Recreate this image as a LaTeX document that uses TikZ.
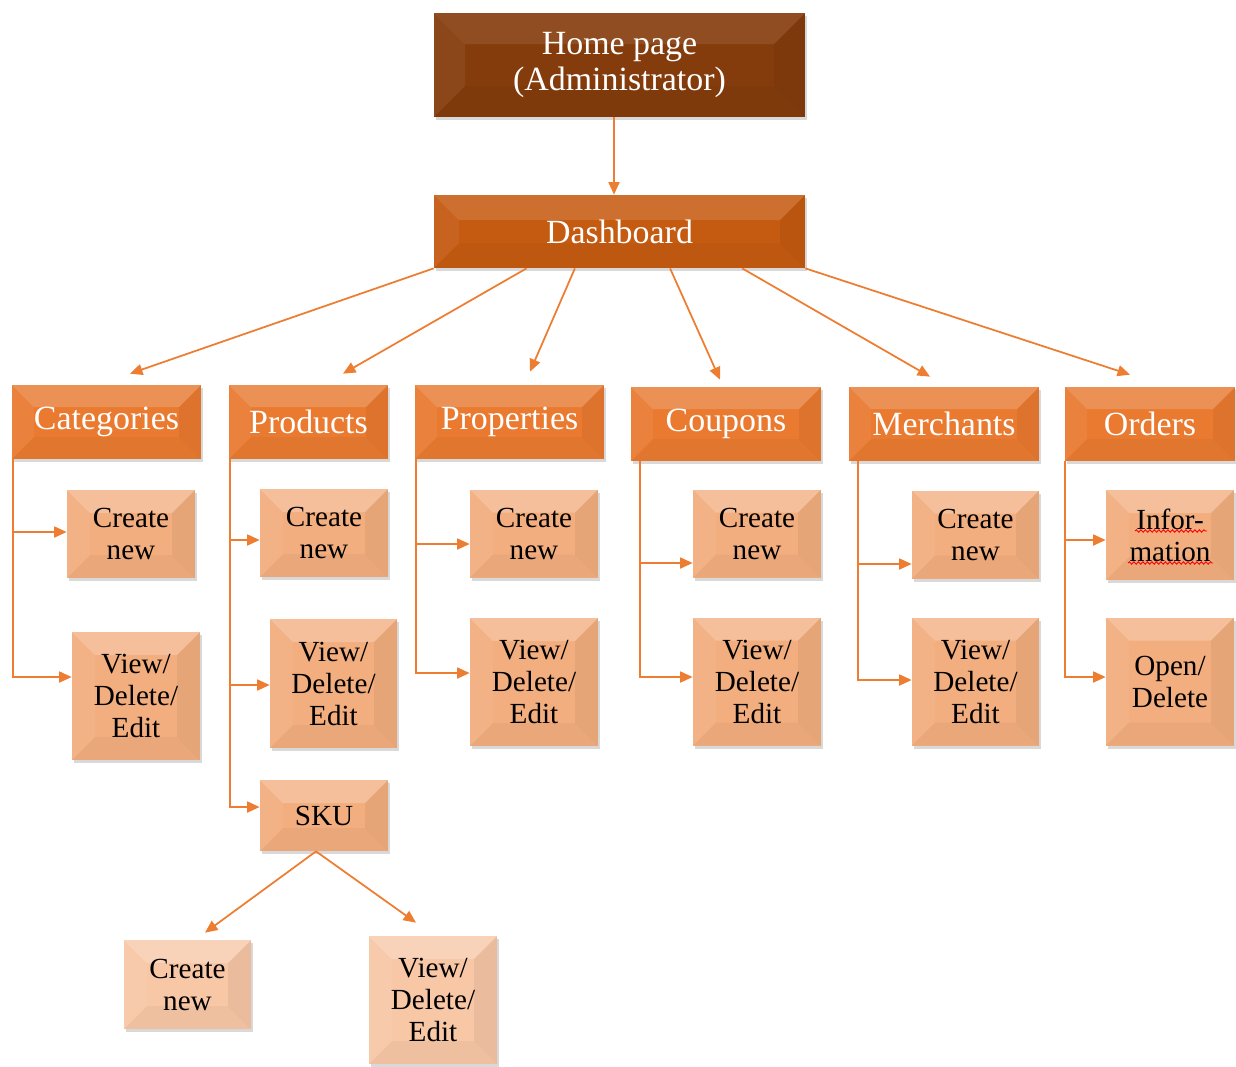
\documentclass[tikz,border=0pt]{standalone}
\usepackage{fontspec}
\setmainfont{Liberation Serif}
\usetikzlibrary{arrows.meta,shadows,calc,decorations.pathmorphing}

\definecolor{homeC}{HTML}{843C0C}
\definecolor{dashC}{HTML}{C55A11}
\definecolor{secC}{HTML}{E97A30}
\definecolor{itemC}{HTML}{F2AE7E}
\definecolor{subC}{HTML}{F7C7A6}
\definecolor{lineC}{HTML}{ED7D31}

% bevelled faces drawn inside a rectangular node
% #1 = bevel depth, #2 = opacity of the lit top face
\newcommand\bevelfaces[2]{%
  \coordinate (bNW) at (path picture bounding box.north west);
  \coordinate (bNE) at (path picture bounding box.north east);
  \coordinate (bSW) at (path picture bounding box.south west);
  \coordinate (bSE) at (path picture bounding box.south east);
  \fill[white,opacity=#2] (bNW) -- (bNE) -- ([shift={(-#1,-#1)}]bNE) -- ([shift={(#1,-#1)}]bNW) -- cycle;
  \fill[white,opacity=0.06] (bNW) -- ([shift={(#1,-#1)}]bNW) -- ([shift={(#1,#1)}]bSW) -- (bSW) -- cycle;
  \fill[black,opacity=0.05] (bNE) -- ([shift={(-#1,-#1)}]bNE) -- ([shift={(-#1,#1)}]bSE) -- (bSE) -- cycle;
  \fill[black,opacity=0.03] (bSW) -- ([shift={(#1,#1)}]bSW) -- ([shift={(-#1,#1)}]bSE) -- (bSE) -- cycle;
}

\tikzset{
  bevel/.style 2 args={path picture={\bevelfaces{#1}{#2}}},
  sz/.style 2 args={minimum width=#1*0.02cm, minimum height=#2*0.02cm},
  box/.style={rectangle, inner sep=0pt, align=center,
    drop shadow={shadow xshift=1.2pt, shadow yshift=-1.8pt, opacity=0.3}},
  homebox/.style={box, fill=homeC, text=white, bevel={0.62cm}{0.09},
    font=\fontsize{19.3}{20.5}\selectfont},
  dashbox/.style={box, fill=dashC, text=white, bevel={0.5cm}{0.13},
    font=\fontsize{19.3}{20.5}\selectfont},
  secbox/.style={box, fill=secC, text=white, bevel={0.44cm}{0.18},
    font=\fontsize{19.3}{21}\selectfont},
  itembox/.style={box, fill=itemC, text=black, bevel={0.46cm}{0.22},
    font=\fontsize{16.6}{18.2}\selectfont},
  subbox/.style={itembox, fill=subC},
  conn/.style={draw=lineC, line width=1pt,
    -{Triangle[length=0.25cm,width=0.22cm]}},
  wavy/.style={draw=red, line width=0.5pt,
    decorate, decoration={snake, segment length=0.09cm, amplitude=0.025cm}}
}

\begin{document}
\begin{tikzpicture}[x=0.02cm,y=-0.02cm]
\useasboundingbox (0,0) rectangle (1236,1066);

% top levels
\node[homebox, sz={371}{104}] (home) at (619.5,65) {Home page\\(Administrator)};
\node[dashbox, sz={371}{73}] (dash) at (619.5,231.5) {Dashboard};

% sections
\node[secbox, sz={189}{74}] (cat)   at (106.5,422) {Categories};
\node[secbox, sz={159}{74}] (prod)  at (308.5,422) {Products};
\node[secbox, sz={189}{74}] (prop)  at (509.5,422) {Properties};
\node[secbox, sz={190}{74}] (coup)  at (726,424)   {Coupons};
\node[secbox, sz={190}{74}] (merch) at (944,424)   {Merchants};
\node[secbox, sz={170}{74}] (ord)   at (1150,424)  {Orders};

% section items
\node[itembox, sz={128}{88}]  (catC)  at (131,534)    {Create\\new};
\node[itembox, sz={128}{128}] (catV)  at (136,696)    {View/\\Delete/\\Edit};
\node[itembox, sz={128}{88}]  (prodC) at (324,533)    {Create\\new};
\node[itembox, sz={127}{129}] (prodV) at (333.5,683.5) {View/\\Delete/\\Edit};
\node[itembox, sz={128}{71}]  (sku)   at (324,815.5)  {SKU};
\node[itembox, sz={128}{88}]  (propC) at (534,533.5)  {Create\\new};
\node[itembox, sz={128}{128}] (propV) at (534,682)    {View/\\Delete/\\Edit};
\node[itembox, sz={128}{88}]  (coupC) at (757,533.5)  {Create\\new};
\node[itembox, sz={128}{128}] (coupV) at (757,681.5)  {View/\\Delete/\\Edit};
\node[itembox, sz={127}{88}]  (merC)  at (975.5,534.5) {Create\\new};
\node[itembox, sz={127}{128}] (merV)  at (975.5,681.5) {View/\\Delete/\\Edit};
\node[itembox, sz={128}{90}]  (ordI)  at (1170,535)   {Infor-\\mation};
\node[itembox, sz={128}{128}] (ordO)  at (1170,681.5) {Open/\\Delete};

% SKU items
\node[subbox, sz={127}{89}]  (skuC) at (187.5,984.5) {Create\\new};
\node[subbox, sz={128}{128}] (skuV) at (433,1000)    {View/\\Delete/\\Edit};

% spell-check marks under "Information"
\draw[wavy] ([shift={(-0.70cm,0.08cm)}]ordI.center) -- ([shift={(0.74cm,0.08cm)}]ordI.center);
\draw[wavy] ([shift={(-0.84cm,-0.56cm)}]ordI.center) -- ([shift={(0.86cm,-0.56cm)}]ordI.center);

% home -> dashboard
\draw[conn] ([xshift=-0.11cm]home.south) -- ([xshift=-0.11cm]dash.north);

% dashboard -> sections
\draw[conn] (dash.south west) -- ([shift={(0.47cm,0.22cm)}]cat.north);
\draw[conn] ($(dash.south west)!0.25!(dash.south east)$) -- ([shift={(0.69cm,0.22cm)}]prod.north);
\draw[conn] ($(dash.south west)!0.38!(dash.south east)$) -- ([shift={(0.41cm,0.26cm)}]prop.north);
\draw[conn] ($(dash.south west)!0.636!(dash.south east)$) -- ([shift={(-0.12cm,0.14cm)}]coup.north);
\draw[conn] ($(dash.south west)!0.83!(dash.south east)$) -- ([shift={(-0.28cm,0.2cm)}]merch.north);
\draw[conn] (dash.south east) -- ([shift={(-0.4cm,0.24cm)}]ord.north);

% sections -> items
\draw[conn] ([xshift=0.02cm]cat.south west) |- ([yshift=0.04cm]catC.west);
\draw[conn] ([xshift=0.02cm]cat.south west) |- ([yshift=0.38cm]catV.west);

\draw[conn] ([xshift=0.02cm]prod.south west) |- ([yshift=-0.14cm]prodC.west);
\draw[conn] ([xshift=0.02cm]prod.south west) |- ([yshift=-0.03cm]prodV.west);
\draw[conn] ([xshift=0.02cm]prod.south west) |- ([yshift=0.17cm]sku.west);

\draw[conn] ([xshift=0.02cm]prop.south west) |- ([yshift=-0.21cm]propC.west);
\draw[conn] ([xshift=0.02cm]prop.south west) |- ([yshift=0.18cm]propV.west);

\draw[conn] ([xshift=0.18cm]coup.south west) |- ([yshift=-0.59cm]coupC.west);
\draw[conn] ([xshift=0.18cm]coup.south west) |- ([yshift=0.09cm]coupV.west);

\draw[conn] ([xshift=0.18cm]merch.south west) |- ([yshift=-0.59cm]merC.west);
\draw[conn] ([xshift=0.18cm]merch.south west) |- ([yshift=0.03cm]merV.west);

\draw[conn] ([xshift=0.01cm]ord.south west) |- ([yshift=-0.1cm]ordI.west);
\draw[conn] ([xshift=0.01cm]ord.south west) |- ([yshift=0.09cm]ordO.west);

% SKU -> items
\draw[conn] ([xshift=-0.16cm]sku.south) -- ([shift={(0.35cm,0.14cm)}]skuC.north);
\draw[conn] ([xshift=-0.16cm]sku.south) -- ([shift={(-0.34cm,0.26cm)}]skuV.north);
\end{tikzpicture}
\end{document}
